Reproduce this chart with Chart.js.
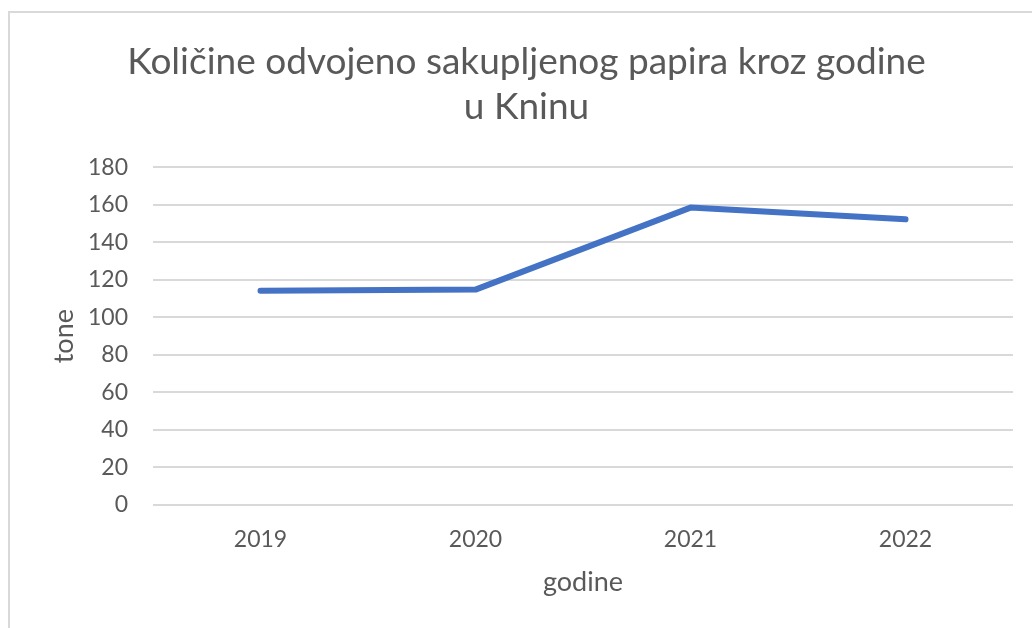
<!DOCTYPE html>
<html>
<head>
<meta charset="utf-8">
<script src="https://cdn.jsdelivr.net/npm/chart.js@4/dist/chart.umd.min.js"></script>
<style>
  html, body { margin: 0; padding: 0; width: 1032px; height: 628px; overflow: hidden; background: #fff; }
  #frame { position: absolute; left: 8px; top: 11px; width: 1100px; height: 700px; border: 2px solid #d9d9d9; box-sizing: border-box; }
  #c { position: absolute; left: 9px; top: 12px; }
</style>
</head>
<body>
<div id="frame"></div>
<canvas id="c" width="1035" height="616"></canvas>
<script>
const titleLines = ['Količine odvojeno sakupljenog papira kroz godine', 'u Kninu'];
const categories = ['2019', '2020', '2021', '2022'];
const values = [114.2, 114.8, 158.5, 152.3];
const yTitle = 'tone';
const xTitle = 'godine';

const textColor = '#595959';
const fontFamily = 'Lato, "Open Sans", sans-serif';

new Chart(document.getElementById('c'), {
  type: 'line',
  data: {
    labels: categories,
    datasets: [{
      data: values,
      borderColor: '#4472C4',
      backgroundColor: '#4472C4',
      borderWidth: 6,
      borderCapStyle: 'round',
      borderJoinStyle: 'round',
      pointRadius: 0,
      pointHoverRadius: 0,
      tension: 0,
      fill: false
    }]
  },
  options: {
    responsive: false,
    animation: false,
    events: [],
    layout: { padding: 0 },
    plugins: {
      legend: { display: false },
      tooltip: { enabled: false },
      title: {
        display: true,
        text: titleLines,
        color: textColor,
        font: { family: fontFamily, size: 37, weight: 'normal', lineHeight: 1.22 },
        padding: { top: 27, bottom: 38 }
      }
    },
    scales: {
      x: {
        offset: true,
        grid: { display: false, drawTicks: false },
        border: { display: false },
        ticks: { color: textColor, font: { family: fontFamily, size: 23 }, padding: 21 },
        title: { display: true, text: xTitle, color: textColor, font: { family: fontFamily, size: 27 }, padding: { top: 0, bottom: 30 } },
        afterFit: (s) => { s.height = 123; }
      },
      y: {
        min: 0,
        max: 180,
        ticks: { stepSize: 20, color: textColor, font: { family: fontFamily, size: 23 }, padding: 25 },
        grid: { color: '#d9d9d9', lineWidth: 2, drawTicks: false },
        border: { display: false },
        title: { display: true, text: yTitle, color: textColor, font: { family: fontFamily, size: 27 }, padding: { top: 39, bottom: 0 } },
        afterFit: (s) => { s.width = 144; }
      },
      yRight: {
        position: 'right',
        display: true,
        min: 0,
        max: 180,
        ticks: { display: false },
        grid: { display: false, drawTicks: false },
        border: { display: false },
        afterFit: (s) => { s.width = 31; }
      }
    }
  }
});
</script>
</body>
</html>
